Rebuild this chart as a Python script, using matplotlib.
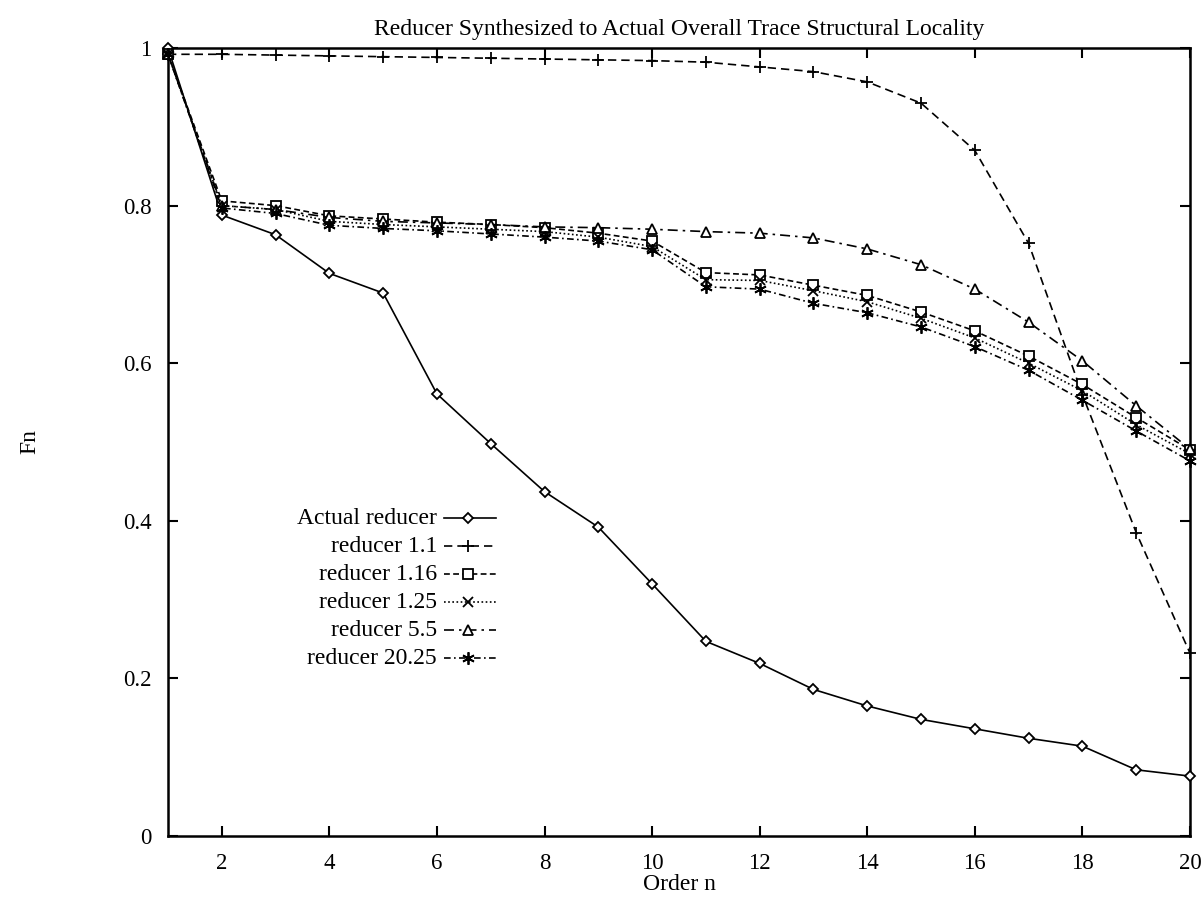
import matplotlib
matplotlib.use("Agg")
import matplotlib.pyplot as plt
from matplotlib.ticker import FuncFormatter

plt.rcParams['font.family'] = ['Liberation Serif', 'DejaVu Serif']

order_n = list(range(1, 21))

actual_reducer = [1.0, 0.788, 0.763, 0.714, 0.689, 0.561, 0.498, 0.437, 0.392, 0.320,
                  0.247, 0.219, 0.186, 0.165, 0.148, 0.136, 0.124, 0.114, 0.084, 0.076]
reducer_1_1 = [0.992, 0.992, 0.991, 0.990, 0.989, 0.988, 0.987, 0.986, 0.985, 0.984,
               0.982, 0.976, 0.970, 0.957, 0.930, 0.870, 0.752, 0.560, 0.385, 0.232]
reducer_1_16 = [0.992, 0.806, 0.800, 0.787, 0.783, 0.779, 0.776, 0.772, 0.765, 0.755,
                0.715, 0.712, 0.699, 0.686, 0.665, 0.641, 0.609, 0.573, 0.531, 0.490]
reducer_1_25 = [0.992, 0.800, 0.795, 0.780, 0.776, 0.773, 0.770, 0.767, 0.760, 0.748,
                0.706, 0.705, 0.692, 0.678, 0.657, 0.632, 0.600, 0.565, 0.522, 0.485]
reducer_5_5 = [0.992, 0.800, 0.795, 0.785, 0.780, 0.778, 0.776, 0.773, 0.772, 0.770,
               0.767, 0.765, 0.759, 0.745, 0.725, 0.694, 0.652, 0.603, 0.546, 0.491]
reducer_20_25 = [0.992, 0.797, 0.790, 0.775, 0.771, 0.768, 0.764, 0.760, 0.755, 0.744,
                 0.697, 0.694, 0.676, 0.664, 0.646, 0.621, 0.591, 0.553, 0.514, 0.476]

series_labels = ["Actual reducer", "reducer 1.1", "reducer 1.16",
                 "reducer 1.25", "reducer 5.5", "reducer 20.25"]
series_values = [actual_reducer, reducer_1_1, reducer_1_16,
                 reducer_1_25, reducer_5_5, reducer_20_25]

x_ticks = [2, 4, 6, 8, 10, 12, 14, 16, 18, 20]
y_ticks = [0, 0.2, 0.4, 0.6, 0.8, 1.0]

styles = [
    dict(marker='D', ms=5.5, ls='-', mfc='white'),
    dict(marker='+', ms=9, ls=(0, (5, 3))),
    dict(marker='s', ms=6.5, ls=(0, (3.5, 2)), mfc='white'),
    dict(marker='x', ms=7, ls=(0, (1, 1.5))),
    dict(marker='^', ms=7, ls=(0, (6, 3, 1.5, 3)), mfc='white'),
    dict(marker=(6, 2, 0), ms=9, ls=(0, (4, 2, 1, 2))),
]

W, H = 1204, 906
fig = plt.figure(figsize=(W / 100, H / 100), dpi=100)
L, R, T, B = 168, 1190, 48, 836
ax = fig.add_axes([L / W, 1 - B / H, (R - L) / W, (B - T) / H])

for vals, lab, st in zip(series_values, series_labels, styles):
    ax.plot(order_n, vals, color='black', lw=1.2, mew=1.3, mec='black',
            marker=st['marker'], ms=st['ms'], ls=st['ls'],
            mfc=st.get('mfc', 'black'), label=lab, clip_on=False, zorder=3)

ax.set_xlim(1, 20)
ax.set_ylim(0, 1)
ax.set_xticks(x_ticks)
ax.set_yticks(y_ticks)
ax.yaxis.set_major_formatter(FuncFormatter(lambda v, p: '%g' % v))
ax.tick_params(direction='in', top=True, right=True, length=7, width=1.5,
               labelsize=16.5)
ax.tick_params(axis='x', pad=12)
ax.tick_params(axis='y', pad=12)
for s in ax.spines.values():
    s.set_linewidth(1.8)

ax.set_title("Reducer Synthesized to Actual Overall Trace Structural Locality",
             fontsize=17, pad=9)
ax.set_xlabel("Order n", fontsize=17, va='center')
ax.xaxis.set_label_coords(0.5, -(884 - B) / (B - T))
ax.set_ylabel("Fn", fontsize=17)
ax.yaxis.set_label_coords((40 - L) / (R - L), 0.5)

# gnuplot-style key: right-aligned text followed by a line sample
key_text_x = (437 - L) / (R - L)
key_l = (444 - L) / (R - L)
key_r = (496 - L) / (R - L)
key_rows = [518, 546, 574, 602, 630, 658]
for lab, st, py in zip(series_labels, styles, key_rows):
    ay = (B - py) / (B - T)
    ax.text(key_text_x, ay, lab, transform=ax.transAxes, ha='right',
            va='center', fontsize=17)
    ax.plot([key_l, key_r], [ay, ay], transform=ax.transAxes, color='black',
            lw=1.2, ls=st['ls'])
    ax.plot([(key_l + key_r) / 2 - 0.002], [ay], transform=ax.transAxes,
            color='black', marker=st['marker'], ms=st['ms'], mew=1.3,
            mfc=st.get('mfc', 'black'), mec='black', ls='none')

fig.savefig("out.png", dpi=100)
